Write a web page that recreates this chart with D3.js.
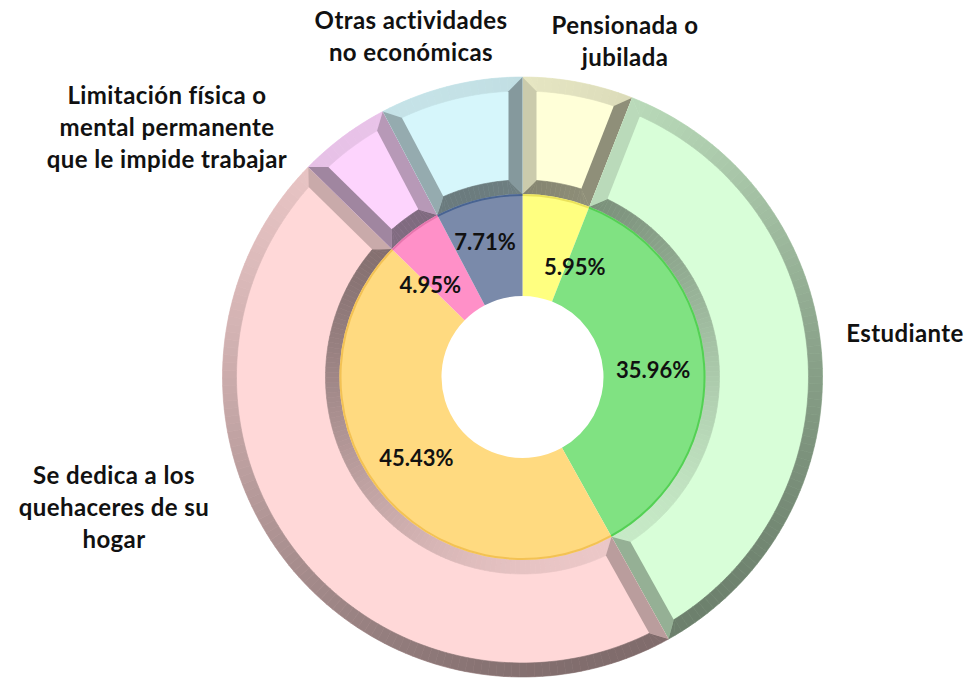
<!DOCTYPE html>
<html>
<head>
<meta charset="utf-8">
<script src="https://cdn.jsdelivr.net/npm/d3@7"></script>
<style>
  body { margin: 0; background: #fff; }
  text { font-family: Lato, "Open Sans", sans-serif; font-weight: bold; fill: #111; }
</style>
</head>
<body>
<div id="chart"></div>
<script>
// data, clockwise from 12 o'clock
var categories = ['Pensionada o jubilada', 'Estudiante',
  'Se dedica a los quehaceres de su hogar',
  'Limitación física o mental permanente que le impide trabajar',
  'Otras actividades no económicas'];
var percents = [5.95, 35.96, 45.43, 4.95, 7.71];
var labelLines = [
  ['Pensionada o', 'jubilada'],
  ['Estudiante'],
  ['Se dedica a los', 'quehaceres de su', 'hogar'],
  ['Limitación física o', 'mental permanente', 'que le impide trabajar'],
  ['Otras actividades', 'no económicas']
];

// styles
var innerColors = ['#ffff80', '#80e282', '#ffda80', '#ff90c8', '#7a8aaa'];
var rimColors   = ['#e6dc50', '#48cc48', '#f0bc48', '#e070a8', '#3c5a8c'];
var faceColors  = ['#ffffd8', '#d8fed8', '#ffd8d8', '#fdd4fd', '#d6f6fb'];

var width = 964, height = 679;
var cx = 522.5, cy = 377;
var rHole = 81, rMid = 183, rOuter = 300, wall = 14;

// label layout (centre of each text block)
var outerLabelPos = [[625, 42], [905, 334], [114, 508], [167, 128], [411, 37]];
var pctNudge = [[28, 19], [0, 2], [-2, 2], [-14, 13], [-6, -8]];

var svg = d3.select('#chart').append('svg')
  .attr('width', width)
  .attr('height', height);

var g = svg.append('g')
  .attr('transform', 'translate(' + cx + ',' + cy + ')');

var pie = d3.pie().sort(null).value(function(d) { return d; });
var arcs = pie(percents);

var faceArc = d3.arc().innerRadius(rMid).outerRadius(rOuter);
var innerArc = d3.arc().innerRadius(rHole).outerRadius(rMid);
var rimArc = d3.arc().innerRadius(rMid - 2).outerRadius(rMid);
var labelArc = d3.arc().innerRadius(131).outerRadius(131);

var poly = d3.lineRadial()
  .angle(function(p) { return p[0]; })
  .radius(function(p) { return p[1]; })
  .curve(d3.curveLinearClosed);

// light comes from top-left
var lx = -0.45, ly = -1;
var ll = Math.sqrt(lx * lx + ly * ly); lx /= ll; ly /= ll;

function shade(color, nx, ny) {
  var dot = nx * lx + ny * ly;
  var k = 0.08 + 0.42 * (1 - dot) / 2;
  return d3.interpolateRgb(color, '#000')(k);
}

var outer = g.append('g').attr('class', 'outer-ring');

arcs.forEach(function(d, i) {
  var s = d.startAngle, e = d.endAngle;
  var sec = outer.append('g');
  sec.append('path')
    .attr('d', faceArc(d))
    .style('fill', faceColors[i]);

  var dOut = Math.asin(wall / (rOuter - wall));
  var dIn = Math.asin(wall / (rMid + wall));
  var n = Math.max(4, Math.ceil((e - s) / (Math.PI / 120)));

  for (var j = 0; j < n; j++) {
    var a0 = s + (e - s) * j / n, a1 = s + (e - s) * (j + 1) / n;
    var am = (a0 + a1) / 2;
    var nx = Math.sin(am), ny = -Math.cos(am);
    // outer wall
    var oc = shade(faceColors[i], nx, ny);
    sec.append('path')
      .attr('d', poly([[a0, rOuter], [a1, rOuter],
        [Math.min(Math.max(a1, s + dOut), e - dOut), rOuter - wall],
        [Math.min(Math.max(a0, s + dOut), e - dOut), rOuter - wall]]))
      .style('fill', oc).style('stroke', oc).style('stroke-width', 0.6);
    // inner wall faces the centre
    var ic = shade(faceColors[i], -nx, -ny);
    sec.append('path')
      .attr('d', poly([[a0, rMid], [a1, rMid],
        [Math.min(Math.max(a1, s + dIn), e - dIn), rMid + wall],
        [Math.min(Math.max(a0, s + dIn), e - dIn), rMid + wall]]))
      .style('fill', ic).style('stroke', ic).style('stroke-width', 0.6);
  }

  // side walls
  var sc = shade(faceColors[i], -Math.cos(s), -Math.sin(s));
  sec.append('path')
    .attr('d', poly([[s, rMid], [s, rOuter], [s + dOut, rOuter - wall], [s + dIn, rMid + wall]]))
    .style('fill', sc);
  var ec = shade(faceColors[i], Math.cos(e), Math.sin(e));
  sec.append('path')
    .attr('d', poly([[e, rMid], [e, rOuter], [e - dOut, rOuter - wall], [e - dIn, rMid + wall]]))
    .style('fill', ec);
});

// inner doughnut
var inner = g.append('g').attr('class', 'inner-ring');
inner.selectAll('path.slice').data(arcs).enter()
  .append('path')
    .classed('slice', true)
    .attr('d', innerArc)
    .style('fill', function(d, i) { return innerColors[i]; });
inner.selectAll('path.rim').data(arcs).enter()
  .append('path')
    .classed('rim', true)
    .attr('d', rimArc)
    .style('fill', function(d, i) { return rimColors[i]; })
    .style('opacity', 0.8);

// percentage labels
g.selectAll('text.pct').data(arcs).enter()
  .append('text')
    .classed('pct', true)
    .attr('x', function(d, i) { return labelArc.centroid(d)[0] + pctNudge[i][0]; })
    .attr('y', function(d, i) { return labelArc.centroid(d)[1] + pctNudge[i][1]; })
    .attr('dy', '0.35em')
    .style('text-anchor', 'middle')
    .style('font-size', '22px')
    .text(function(d) { return d.data.toFixed(2) + '%'; });

// category labels
var lineH = 32;
var catLabels = svg.selectAll('text.cat').data(labelLines).enter()
  .append('text')
    .classed('cat', true)
    .style('text-anchor', 'middle')
    .style('font-size', '24px')
    .style('letter-spacing', '0.4px');

catLabels.each(function(lines, i) {
  var t = d3.select(this);
  var top = outerLabelPos[i][1] - (lines.length - 1) * lineH / 2;
  lines.forEach(function(line, k) {
    t.append('tspan')
      .attr('x', outerLabelPos[i][0])
      .attr('y', top + k * lineH)
      .attr('dy', '0.35em')
      .text(line);
  });
});
</script>
</body>
</html>
